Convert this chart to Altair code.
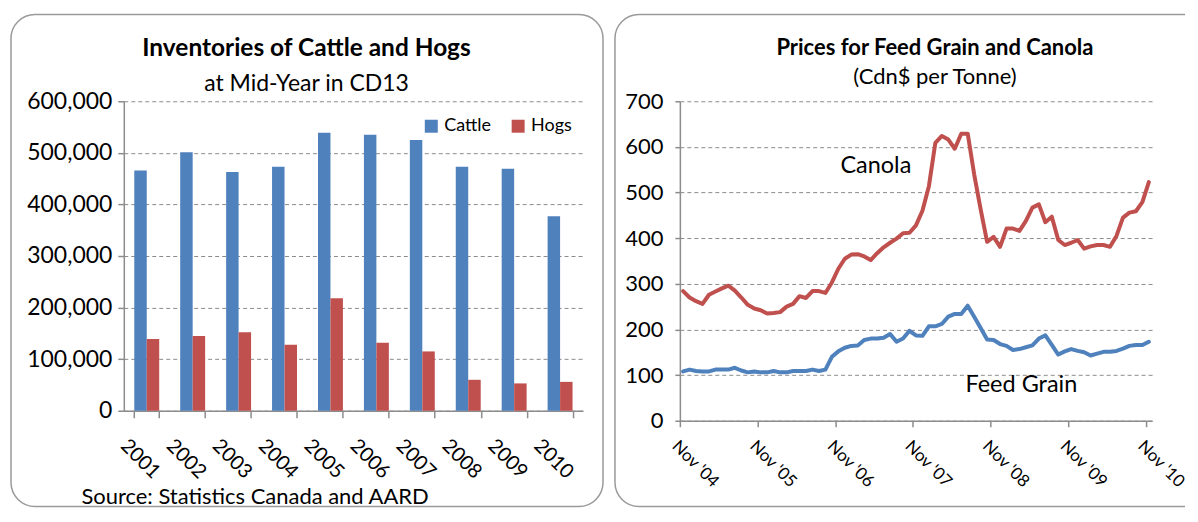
import json
import altair as alt
import pandas as pd

# ---------------- data: left panel (inventories) ----------------
years = ["2001", "2002", "2003", "2004", "2005", "2006", "2007", "2008", "2009", "2010"]
cattle = [466000, 501000, 463000, 473000, 539000, 535000, 525000, 473000, 469000, 377000]
hogs = [139000, 145000, 152000, 128000, 218000, 132000, 115000, 60000, 53000, 56000]
bar_series = ["Cattle", "Hogs"]
bar_colors = ["#4F81BD", "#C0504D"]
inv_ticks = [0, 100000, 200000, 300000, 400000, 500000, 600000]

# ---------------- data: right panel (monthly prices, Nov 2004 - Nov 2010) ----------------
canola = [284, 270, 262, 256, 276, 283, 290, 296, 285, 270,
          254, 246, 242, 235, 236, 238, 250, 256, 273, 269,
          284, 284, 280, 303, 333, 355, 364, 365, 360, 352,
          367, 380, 390, 399, 411, 412, 428, 460, 514, 609,
          624, 616, 596, 629, 629, 540, 463, 392, 403, 381,
          421, 421, 416, 438, 467, 474, 435, 447, 396, 385,
          390, 396, 377, 382, 385, 385, 381, 405, 445, 456,
          459, 479, 523]
feed_grain = [108, 112, 109, 108, 108, 112, 112, 112, 116, 110,
              106, 108, 106, 106, 109, 106, 106, 109, 109, 109,
              112, 109, 112, 140, 152, 160, 164, 165, 177, 180,
              180, 182, 190, 173, 180, 197, 187, 186, 207, 207,
              212, 228, 234, 234, 252, 228, 203, 178, 177, 168,
              164, 155, 157, 161, 165, 180, 187, 166, 145, 152,
              157, 153, 150, 143, 147, 151, 151, 153, 158, 164,
              166, 166, 173]
line_series = ["Canola", "Feed Grain"]
line_colors = ["#C0504D", "#4F81BD"]
month_tick_labels = ["Nov '04", "Nov '05", "Nov '06", "Nov '07", "Nov '08", "Nov '09", "Nov '10"]
price_ticks = [0, 100, 200, 300, 400, 500, 600, 700]

# series name labels placed inside the plot (data coordinates: month index, price)
label_text = ["Canola", "Feed Grain"]
label_month = [30.3, 52.8]
label_price = [558, 79]

FONT = "Lato"
GREY = "#8c8c8c"
BORDER = "#9a9a9a"

n_months = len(canola)

bars_df = pd.DataFrame({
    "year": years * 2,
    "series": ["Cattle"] * len(years) + ["Hogs"] * len(years),
    "value": cattle + hogs,
})

lines_df = pd.DataFrame({
    "month": list(range(n_months)) * 2,
    "series": ["Canola"] * n_months + ["Feed Grain"] * n_months,
    "price": canola + feed_grain,
})

labels_df = pd.DataFrame({"label": label_text, "month": label_month, "price": label_price})
one_row = pd.DataFrame({"k": [0]})

# ---------------- left panel ----------------
left_border = alt.Chart(one_row).mark_rect(
    fill="white", fillOpacity=0, stroke=BORDER, strokeWidth=1.5, cornerRadius=24
).encode(
    x=alt.value(-113), x2=alt.value(480), y=alt.value(-87), y2=alt.value(406)
)

bars = alt.Chart(bars_df).mark_bar().encode(
    x=alt.X(
        "year:N", sort=years,
        scale=alt.Scale(paddingInner=0.457, paddingOuter=0.228),
        axis=alt.Axis(
            title="Source: Statistics Canada and AARD",
            titleFont=FONT, titleFontSize=22, titleFontWeight="normal", titleColor="#000",
            titleX=-43, titleY=86, titleAlign="left", titleBaseline="middle", titleAnchor="start",
            labelAngle=45, labelAlign="center", labelBaseline="middle", labelFontSize=20,
            labelPadding=41, labelOffset=-7, tickBand="extent", tickSize=7, grid=False,
            domainWidth=1.5, tickWidth=1.5,
        ),
    ),
    xOffset=alt.XOffset("series:N", sort=bar_series,
                        scale=alt.Scale(paddingInner=0, paddingOuter=0)),
    y=alt.Y(
        "value:Q", scale=alt.Scale(domain=[0, 600000]),
        axis=alt.Axis(
            title=None, values=inv_ticks, format=",.0f", labelFontSize=23,
            tickSize=6, labelPadding=6, grid=True, gridDash=[4, 3],
            domainWidth=1.5, tickWidth=1.5,
        ),
    ),
    color=alt.Color(
        "series:N", sort=bar_series,
        scale=alt.Scale(domain=bar_series, range=bar_colors),
        legend=alt.Legend(
            title=None, orient="none", legendX=299, legendY=16, direction="horizontal",
            symbolType="square", symbolSize=169, symbolStrokeWidth=0, symbolOpacity=1,
            labelFont=FONT, labelFontSize=18, labelColor="#000", labelOffset=4,
            columnPadding=18,
        ),
    ),
)

left = alt.layer(left_border, bars).properties(
    width=460, height=310,
    title=alt.TitleParams(
        text="Inventories of Cattle and Hogs", subtitle="at Mid-Year in CD13",
        font=FONT, fontSize=24.5, fontWeight="bold", color="#000",
        subtitleFont=FONT, subtitleFontSize=23, subtitleColor="#000",
        anchor="middle", frame="group", dx=-47, offset=-83, subtitlePadding=11,
    ),
)

# ---------------- right panel ----------------
right_border = alt.Chart(one_row).mark_rect(
    fill="white", fillOpacity=0, stroke=BORDER, strokeWidth=1.5,
    cornerRadiusTopLeft=24, cornerRadiusBottomLeft=24,
).encode(
    x=alt.value(-65), x2=alt.value(508), y=alt.value(-87), y2=alt.value(406)
)
# the panel runs past the right edge of the picture: hide its right side
right_edge_cover = alt.Chart(one_row).mark_rule(color="white", strokeWidth=4).encode(
    x=alt.value(508), y=alt.value(-90), y2=alt.value(409)
)

tick_months = [12 * i for i in range(len(month_tick_labels))]
label_expr = f"{json.dumps(month_tick_labels)}[round(datum.value / 12)]"

lines = alt.Chart(lines_df).transform_calculate(
    mid="datum.month + 0.5"
).mark_line(strokeWidth=4, strokeJoin="round", strokeCap="round").encode(
    x=alt.X(
        "mid:Q", scale=alt.Scale(domain=[0, n_months], nice=False, zero=False),
        axis=alt.Axis(
            title=None, values=tick_months, labelExpr=label_expr,
            labelAngle=45, labelAlign="center", labelBaseline="middle", labelFontSize=17,
            labelPadding=37, labelOffset=15, tickSize=6, grid=False,
            domainWidth=1.5, tickWidth=1.5,
        ),
    ),
    y=alt.Y(
        "price:Q", scale=alt.Scale(domain=[0, 700], nice=False),
        axis=alt.Axis(
            title=None, values=price_ticks, format="d", labelFontSize=22,
            tickSize=5, labelPadding=12, grid=True, gridDash=[4, 3],
            domainWidth=1.5, tickWidth=1.5,
        ),
    ),
    color=alt.Color("series:N", scale=alt.Scale(domain=line_series, range=line_colors),
                    legend=None),
)

texts = alt.Chart(labels_df).mark_text(
    font=FONT, fontSize=23.5, color="#000", align="center", baseline="middle"
).encode(
    x=alt.X("month:Q"),
    y=alt.Y("price:Q"),
    text="label:N",
)

right = alt.layer(right_border, right_edge_cover, lines, texts).properties(
    width=473, height=320,
    title=alt.TitleParams(
        text="Prices for Feed Grain and Canola", subtitle="(Cdn$ per Tonne)",
        font=FONT, fontSize=22, fontWeight="bold", color="#000",
        subtitleFont=FONT, subtitleFontSize=22, subtitleColor="#000",
        anchor="middle", frame="group", dx=19, offset=-80, subtitlePadding=7,
    ),
)

chart = alt.hconcat(left, right, spacing=8).resolve_scale(
    color="independent"
).properties(
    padding={"left": 1, "top": 0, "right": 0, "bottom": 0},
    background="white",
).configure_view(
    stroke="transparent"
).configure_axis(
    labelFont=FONT, titleFont=FONT, labelColor="#000",
    domainColor=GREY, tickColor=GREY, gridColor=GREY, gridWidth=1,
)

chart.save("out.html", embed_options={"renderer": "svg", "actions": False})
